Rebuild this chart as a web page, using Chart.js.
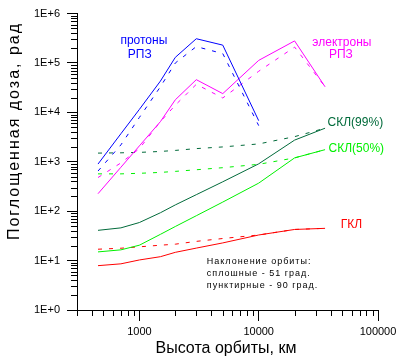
<!DOCTYPE html>
<html>
<head>
<meta charset="utf-8">
<script src="https://cdn.jsdelivr.net/npm/chart.js@4"></script>
<style>
  html, body { margin: 0; padding: 0; background: #fff; }
  #wrap { width: 407px; height: 362px; }
</style>
</head>
<body>
<div id="wrap"><canvas id="doseChart"></canvas></div>
<script>
// высоты орбит, км
const altitudes = [450, 700, 1000, 1500, 2000, 3000, 5000, 10000, 20000, 36000];

// доза, рад: сплошные - наклонение 51 град., пунктирные - 90 град.
const protons51 = [900, 3700, 11500, 43000, 130000, 310000, 230000, 6800, null, null];
const protons90 = [650, 2200, 7900, 33000, 100000, 215000, 155000, 5400, null, null];
const electrons51 = [226, 776, 2100, 6500, 18000, 46000, 24000, 113000, 280000, 33000];
const electrons90 = [480, 950, 1850, 6500, 14000, 37000, 19600, 68000, 210000, 33000];
const skl99_51 = [41, 46, 59, 93, 134, 216, 394, 910, 2750, 4790];
const skl99_90 = [1500, 1520, 1550, 1620, 1700, 1850, 2000, 2300, 3230, 4790];
const skl50_51 = [15, 16.5, 20.5, 34, 49, 81, 153, 370, 1200, 1760];
const skl50_90 = [570, 570, 585, 610, 640, 690, 760, 890, 1200, 1760];
const gkl51 = [7.9, 8.6, 10.3, 12, 14.7, 17.9, 22.8, 33, 42.7, 45];
const gkl90 = [17, 17.8, 19, 20.5, 21.5, 24.5, 28, 33, 42.7, 45];

const xTicks = [1000, 10000, 100000];
const yTicks = [1, 10, 100, 1000, 10000, 100000, 1000000];
const yTickLabels = ["1E+0", "1E+1", "1E+2", "1E+3", "1E+4", "1E+5", "1E+6"];

const BLUE = "#0000ff", MAGENTA = "#ff00ff", DKGREEN = "#006a3a", GREEN = "#00f000", RED = "#ff0000";

function pts(values) {
  return altitudes.map((a, i) => ({ x: a, y: values[i] })).filter(p => p.y !== null);
}

function line(values, color, dashed) {
  return {
    data: pts(values),
    borderColor: color,
    borderWidth: 1,
    borderDash: dashed ? [4, 7] : [],
    pointRadius: 0,
    tension: 0,
    fill: false
  };
}

// подписи кривых, координаты в единицах осей
const curveLabels = [
  { text: "протоны", x: 1090, y: 284000, color: BLUE },
  { text: "РПЗ", x: 1006, y: 146000, color: BLUE },
  { text: "электроны", x: 49800, y: 263000, color: MAGENTA },
  { text: "РПЗ", x: 48900, y: 144500, color: MAGENTA },
  { text: "СКЛ(99%)", x: 64600, y: 6310, color: DKGREEN },
  { text: "СКЛ(50%)", x: 65800, y: 1820, color: GREEN },
  { text: "ГКЛ", x: 59800, y: 52.5, color: RED }
];
const noteLines = ["Наклонение орбиты:", "сплошные - 51 град.", "пунктирные - 90 град."];
const noteY = [9.7, 5.4, 3.12];

const extras = {
  id: "extras",
  afterDraw(chart) {
    const { ctx, scales: { x, y } } = chart;
    ctx.save();
    // малые деления
    ctx.strokeStyle = "#000";
    ctx.lineWidth = 1;
    ctx.beginPath();
    for (let d = 100; d <= 10000; d *= 10) {
      for (let k = 2; k <= 9; k++) {
        const v = d * k;
        if (v < x.min) continue;
        const px = Math.round(x.getPixelForValue(v)) + 0.5;
        ctx.moveTo(px, y.bottom);
        ctx.lineTo(px, y.bottom + 6);
      }
    }
    for (let d = 1; d <= 100000; d *= 10) {
      for (let k = 2; k <= 9; k++) {
        const py = Math.round(y.getPixelForValue(d * k)) + 0.5;
        ctx.moveTo(x.left - 6, py);
        ctx.lineTo(x.left, py);
      }
    }
    ctx.stroke();

    ctx.textAlign = "center";
    ctx.textBaseline = "middle";
    ctx.font = "12px 'Liberation Sans', Arial, sans-serif";
    curveLabels.forEach(l => {
      ctx.fillStyle = l.color;
      ctx.fillText(l.text, x.getPixelForValue(l.x), y.getPixelForValue(l.y));
    });

    ctx.fillStyle = "#000";
    ctx.textAlign = "left";
    ctx.font = "9px 'Liberation Sans', Arial, sans-serif";
    ctx.letterSpacing = "1px";
    noteLines.forEach((t, i) => {
      ctx.fillText(t, x.getPixelForValue(3670), y.getPixelForValue(noteY[i]));
    });

    ctx.font = "16px 'Liberation Sans', Arial, sans-serif";
    ctx.letterSpacing = "0px";
    ctx.textAlign = "center";
    ctx.textBaseline = "alphabetic";
    ctx.fillText("Высота орбиты, км", 226, 353);

    ctx.letterSpacing = "2px";
    ctx.translate(19, 131);
    ctx.rotate(-Math.PI / 2);
    ctx.fillText("Поглощенная доза, рад", 0, 0);
    ctx.restore();
  }
};

const tickFont = { family: "'Liberation Sans', Arial, sans-serif", size: 11 };

new Chart(document.getElementById("doseChart"), {
  type: "line",
  data: {
    datasets: [
      line(protons51, BLUE, false),
      line(protons90, BLUE, true),
      line(electrons51, MAGENTA, false),
      line(electrons90, MAGENTA, true),
      line(skl99_51, DKGREEN, false),
      line(skl99_90, DKGREEN, true),
      line(skl50_51, GREEN, false),
      line(skl50_90, GREEN, true),
      line(gkl51, RED, false),
      line(gkl90, RED, true)
    ]
  },
  options: {
    responsive: true,
    maintainAspectRatio: false,
    animation: false,
    devicePixelRatio: 1,
    layout: { padding: { top: 10, right: 29, left: 0, bottom: 0 } },
    plugins: {
      legend: { display: false },
      tooltip: { enabled: false }
    },
    scales: {
      x: {
        type: "logarithmic",
        position: "bottom",
        min: 300,
        max: 100000,
        afterBuildTicks: s => { s.ticks = xTicks.map(v => ({ value: v, major: true })); },
        afterFit: s => { s.height = 52; },
        grid: { drawOnChartArea: false, drawTicks: true, tickLength: 11, color: "#000" },
        border: { display: true, color: "#000", width: 1 },
        ticks: {
          autoSkip: false,
          maxRotation: 0,
          padding: 4,
          color: "#000",
          font: tickFont,
          callback: v => String(v)
        }
      },
      y: {
        type: "logarithmic",
        position: "left",
        min: 1,
        max: 1000000,
        afterBuildTicks: s => { s.ticks = yTicks.map(v => ({ value: v, major: true })); },
        afterFit: s => { s.width = 77; },
        grid: { drawOnChartArea: false, drawTicks: true, tickLength: 10, color: "#000" },
        border: { display: true, color: "#000", width: 1 },
        ticks: {
          autoSkip: false,
          padding: 7,
          color: "#000",
          font: tickFont,
          callback: v => yTickLabels[yTicks.indexOf(v)]
        }
      }
    }
  },
  plugins: [extras]
});
</script>
</body>
</html>
